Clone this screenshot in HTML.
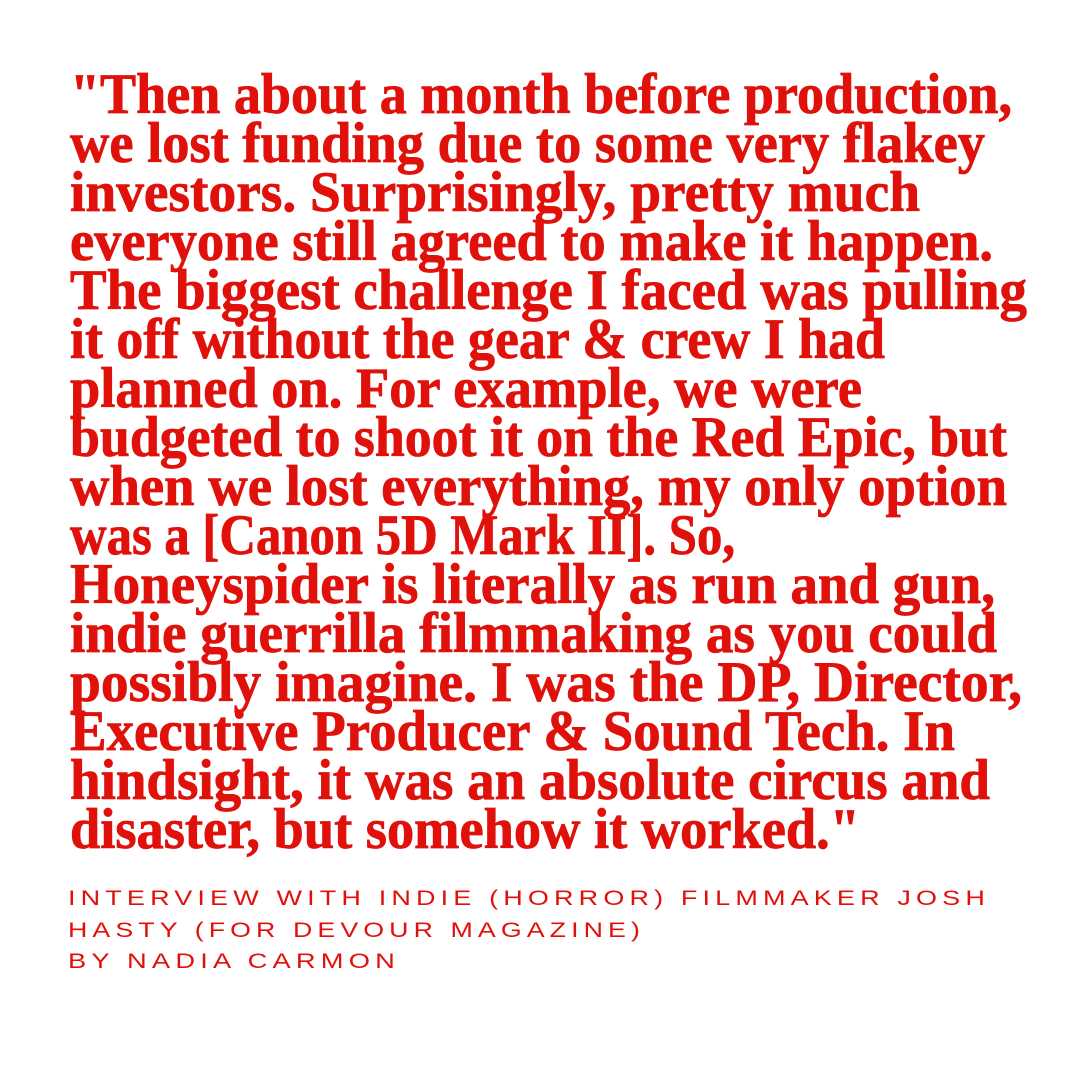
<!DOCTYPE html>
<html><head><meta charset="utf-8"><style>
html,body{margin:0;padding:0;background:#fff;}
svg{display:block}
.q{font-family:"Liberation Serif",serif;font-weight:bold;font-size:57px;fill:#e0110b;stroke:#e0110b;stroke-width:0.8px;}
.b{font-family:"Liberation Sans",sans-serif;font-size:21px;fill:#e0110b;letter-spacing:4px;}
</style></head><body>
<svg width="1080" height="1080" viewBox="0 0 1080 1080">
<rect width="1080" height="1080" fill="#fff"/>
<g>
<text class="q" x="70" y="113" textLength="942" lengthAdjust="spacingAndGlyphs">"Then about a month before production,</text>
<text class="q" x="70" y="162" textLength="915" lengthAdjust="spacingAndGlyphs">we lost funding due to some very flakey</text>
<text class="q" x="70" y="211" textLength="850" lengthAdjust="spacingAndGlyphs">investors. Surprisingly, pretty much</text>
<text class="q" x="70" y="260" textLength="923" lengthAdjust="spacingAndGlyphs">everyone still agreed to make it happen.</text>
<text class="q" x="70" y="309" textLength="957" lengthAdjust="spacingAndGlyphs">The biggest challenge I faced was pulling</text>
<text class="q" x="70" y="358" textLength="815" lengthAdjust="spacingAndGlyphs">it off without the gear &amp; crew I had</text>
<text class="q" x="70" y="407" textLength="792" lengthAdjust="spacingAndGlyphs">planned on. For example, we were</text>
<text class="q" x="70" y="456" textLength="937" lengthAdjust="spacingAndGlyphs">budgeted to shoot it on the Red Epic, but</text>
<text class="q" x="70" y="505" textLength="937" lengthAdjust="spacingAndGlyphs">when we lost everything, my only option</text>
<text class="q" x="70" y="554" textLength="665" lengthAdjust="spacingAndGlyphs">was a [Canon 5D Mark II]. So,</text>
<text class="q" x="70" y="603" textLength="925" lengthAdjust="spacingAndGlyphs">Honeyspider is literally as run and gun,</text>
<text class="q" x="70" y="652" textLength="927" lengthAdjust="spacingAndGlyphs">indie guerrilla filmmaking as you could</text>
<text class="q" x="70" y="701" textLength="952" lengthAdjust="spacingAndGlyphs">possibly imagine. I was the DP, Director,</text>
<text class="q" x="70" y="750" textLength="885" lengthAdjust="spacingAndGlyphs">Executive Producer &amp; Sound Tech. In</text>
<text class="q" x="70" y="799" textLength="920" lengthAdjust="spacingAndGlyphs">hindsight, it was an absolute circus and</text>
<text class="q" x="70" y="848" textLength="790" lengthAdjust="spacingAndGlyphs">disaster, but somehow it worked."</text>
</g>
<g>
<text class="b" x="68" y="905" textLength="922" lengthAdjust="spacingAndGlyphs">INTERVIEW WITH INDIE (HORROR) FILMMAKER JOSH</text>
<text class="b" x="68" y="937" textLength="577" lengthAdjust="spacingAndGlyphs">HASTY (FOR DEVOUR MAGAZINE)</text>
<text class="b" x="68" y="968" textLength="332" lengthAdjust="spacingAndGlyphs">BY NADIA CARMON</text>
</g>
</svg>
</body></html>
